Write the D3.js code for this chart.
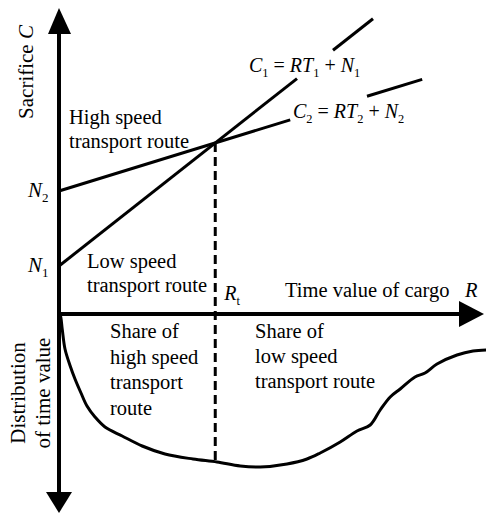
<!DOCTYPE html>
<html>
<head>
<meta charset="utf-8">
<script src="https://cdn.jsdelivr.net/npm/d3@7/dist/d3.min.js"></script>
<style>
  body { margin: 0; background: #fff; }
  text { font-family: "Liberation Serif", "Times New Roman", serif; fill: #000; }
</style>
</head>
<body>
<script>
const width = 486;
const height = 515;

// sacrifice lines C = R*T + N  (low speed route, high speed route)
const intercepts = [1.6, 4.1];
const slopes = [1.05, 0.41];
// R ranges where each line is drawn (gaps leave room for the labels)
const segments = [
    [[0, 5.95], [6.85, 7.85]],
    [[0, 5.78], [7.7, 9.08]]
];
const lineLabels = [
    [['C', 'i'], ['1', 's'], [' = ', ''], ['RT', 'i'], ['1', 's'], [' + ', ''], ['N', 'i'], ['1', 's']],
    [['C', 'i'], ['2', 's'], [' = ', ''], ['RT', 'i'], ['2', 's'], [' + ', ''], ['N', 'i'], ['2', 's']]
];
const labelPos = [[4.75, 8.07], [5.85, 6.53]];

// distribution of time value (drawn downwards below the R axis)
const distR = [0, 0.03, 0.08, 0.15, 0.28, 0.4, 0.55, 0.7, 0.9, 1.15, 1.58, 2.08, 2.65, 3.35, 3.95,
    4.53, 5.03, 5.7, 6.2, 6.53, 7.03, 7.45, 7.78, 8.03, 8.28, 8.53, 8.9, 9.15, 9.45, 9.95, 10.35, 10.68];
const distValue = [0, 0.05, 0.75, 1.75, 2.6, 3.25, 3.95, 4.6, 5.15, 5.65, 6.1, 6.6, 7.0, 7.25, 7.4,
    7.6, 7.65, 7.5, 7.25, 6.95, 6.4, 5.85, 5.55, 4.8, 4.15, 3.75, 3.15, 2.95, 2.5, 2.05, 1.85, 1.8];

const svg = d3.select('body').append('svg').attr('width', width).attr('height', height);

const x = d3.scaleLinear().domain([0, 10]).range([59, 459]);
const yC = d3.scaleLinear().domain([0, 10]).range([314, 14]);
const yD = d3.scaleLinear().domain([0, 10]).range([314, 514]);

// intersection -> R_t
const rT = (intercepts[1] - intercepts[0]) / (slopes[0] - slopes[1]);
const cT = intercepts[0] + slopes[0] * rT;

// axes
const ax = x(0);
svg.append('line').attr('x1', ax).attr('x2', ax).attr('y1', 30).attr('y2', 495)
    .attr('stroke', '#000').attr('stroke-width', 4);
svg.append('line').attr('x1', ax).attr('x2', 462).attr('y1', yC(0)).attr('y2', yC(0))
    .attr('stroke', '#000').attr('stroke-width', 4);
svg.append('path').attr('d', `M${ax},8 L${ax - 11},34 L${ax + 12},34 Z`);
svg.append('path').attr('d', `M${ax},513 L${ax - 13},492 L${ax + 13},492 Z`);
svg.append('path').attr('d', `M484,${yC(0)} L459,${yC(0) - 13} L459,${yC(0) + 13} Z`);

// sacrifice lines
segments.forEach((segs, i) => {
    segs.forEach(s => {
        svg.append('line')
            .attr('x1', x(s[0])).attr('y1', yC(intercepts[i] + slopes[i] * s[0]))
            .attr('x2', x(s[1])).attr('y2', yC(intercepts[i] + slopes[i] * s[1]))
            .attr('stroke', '#000').attr('stroke-width', 3);
    });
});

// distribution curve
const line = d3.line().x(d => x(d[0])).y(d => yD(d[1])).curve(d3.curveCatmullRom);
svg.append('path').datum(distR.map((r, i) => [r, distValue[i]]))
    .attr('d', line).attr('fill', 'none').attr('stroke', '#000').attr('stroke-width', 3);

// dashed line at R_t
const bisect = d3.bisector(d => d).left;
const k = bisect(distR, rT);
const t = (rT - distR[k - 1]) / (distR[k] - distR[k - 1]);
const dT = distValue[k - 1] + t * (distValue[k] - distValue[k - 1]);
svg.append('line').attr('x1', x(rT)).attr('x2', x(rT)).attr('y1', yC(cT)).attr('y2', yD(dT))
    .attr('stroke', '#000').attr('stroke-width', 3).attr('stroke-dasharray', '9,5');

// rich text helper: parts [text, style] style i = italic, s = subscript
function rich(px, py, parts, size) {
    const tx = svg.append('text').attr('x', px).attr('y', py).style('font-size', size + 'px');
    let down = false;
    parts.forEach(p => {
        const sp = tx.append('tspan').text(p[0]);
        if (p[1] === 'i') sp.style('font-style', 'italic');
        if (p[1] === 's') {
            sp.style('font-size', (size * 0.62) + 'px').attr('dy', 5);
            down = true;
        } else if (down) {
            sp.attr('dy', -5);
            down = false;
        }
    });
    return tx;
}

lineLabels.forEach((parts, i) => rich(x(labelPos[i][0]), yC(labelPos[i][1]), parts, 20));

rich(28, 197, [['N', 'i'], ['2', 's']], 21);
rich(28, 272, [['N', 'i'], ['1', 's']], 21);
rich(x(rT) + 9, 300, [['R', 'i'], ['t', 's']], 20);

function block(px, py, lines, lh) {
    const tx = svg.append('text').attr('x', px).attr('y', py).style('font-size', '20.5px');
    lines.forEach((l, i) => tx.append('tspan').attr('x', px).attr('dy', i ? lh : 0).text(l));
}

block(69, 124, ['High speed', 'transport route'], 24);
block(87, 268, ['Low speed', 'transport route'], 24);
block(110, 338, ['Share of', 'high speed', 'transport', 'route'], 25.5);
block(255, 338, ['Share of', 'low speed', 'transport route'], 25);

svg.append('text').attr('x', 285).attr('y', 297).style('font-size', '20.5px').text('Time value of cargo');
svg.append('text').attr('x', 465).attr('y', 297).style('font-size', '20.5px').style('font-style', 'italic').text('R');

const sac = svg.append('text').attr('transform', 'translate(33,72) rotate(-90)')
    .attr('text-anchor', 'middle').style('font-size', '21px');
sac.append('tspan').text('Sacrifice ');
sac.append('tspan').style('font-style', 'italic').text('C');

svg.append('text').attr('transform', 'translate(25,393) rotate(-90)')
    .attr('text-anchor', 'middle').style('font-size', '21px').text('Distribution');
svg.append('text').attr('transform', 'translate(50,393) rotate(-90)')
    .attr('text-anchor', 'middle').style('font-size', '21px').text('of time value');
</script>
</body>
</html>
